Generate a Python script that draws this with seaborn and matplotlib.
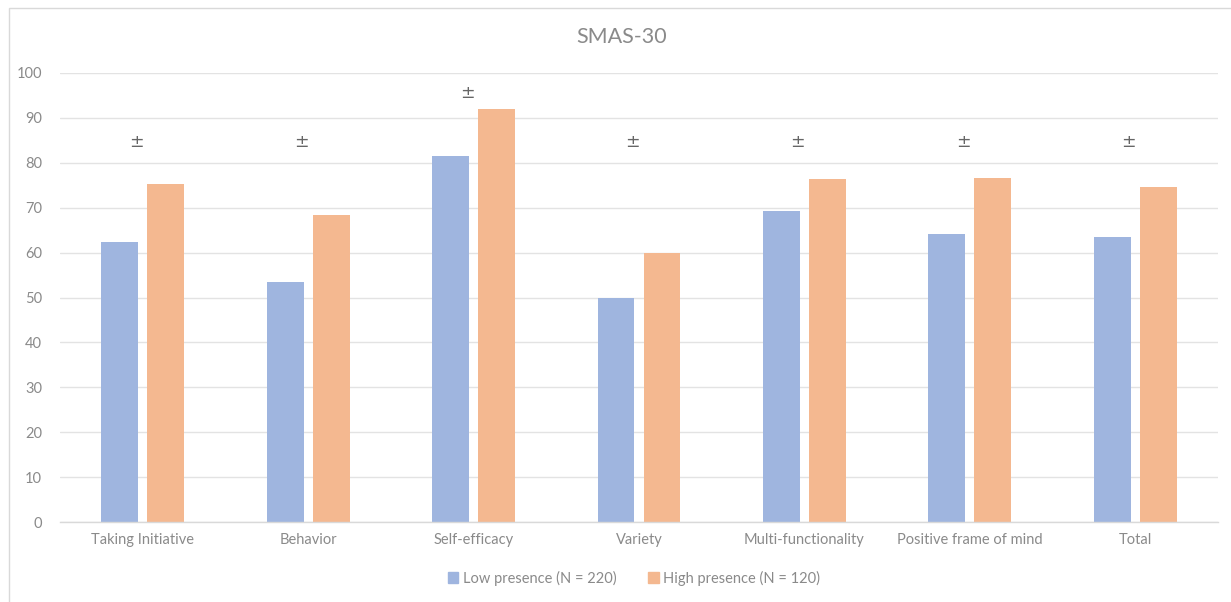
import matplotlib
matplotlib.use("Agg")
import matplotlib.pyplot as plt
import seaborn as sns
import pandas as pd
from matplotlib.patches import Rectangle

# Subscale means per group
categories = ["Taking Initiative", "Behavior", "Self-efficacy", "Variety",
              "Multi-functionality", "Positive frame of mind", "Total"]
groups = ["Low presence (N = 220)", "High presence (N = 120)"]
low_presence = [62.4, 53.5, 81.5, 49.9, 69.3, 64.1, 63.5]
high_presence = [75.3, 68.4, 92.0, 60.0, 76.4, 76.6, 74.6]
# Height of the "±" marker above each category
marker_levels = [84.6, 84.6, 95.5, 84.6, 84.6, 84.6, 84.6]
y_ticks = list(range(0, 101, 10))

df = pd.DataFrame({
    "category": categories * 2,
    "group": [groups[0]] * len(categories) + [groups[1]] * len(categories),
    "score": low_presence + high_presence,
})

sns.set_theme(style="white")
plt.rcParams["font.family"] = ["Lato", "DejaVu Sans"]

text_grey = "#8a8a8a"
palette = {groups[0]: "#9fb5df", groups[1]: "#f4b890"}

fig = plt.figure(figsize=(12.31, 6.02), dpi=100)
ax = fig.add_axes([60 / 1231, 1 - 522 / 602, (1218 - 60) / 1231, (522 - 73) / 602])

sns.barplot(data=df, x="category", y="score", hue="group", order=categories,
            hue_order=groups, palette=palette, width=0.556, gap=0.2,
            saturation=1, linewidth=0, edgecolor="none", ax=ax, legend=False)

ax.set_xlim(-0.5, len(categories) - 0.5)
ax.set_ylim(0, 100)
ax.set_yticks(y_ticks)
ax.yaxis.grid(True, color="#e3e3e3", linewidth=1)
ax.set_axisbelow(True)
for side in ["top", "right", "left"]:
    ax.spines[side].set_visible(False)
ax.spines["bottom"].set_color("#d9d9d9")
ax.spines["bottom"].set_linewidth(1)
ax.tick_params(axis="both", length=0, colors=text_grey, labelsize=10.5)
ax.tick_params(axis="y", pad=13)
ax.tick_params(axis="x", pad=8)
ax.set_xlabel("")
ax.set_ylabel("")

for i, level in enumerate(marker_levels):
    ax.text(i - 0.04, level, "±", ha="center", va="center", fontsize=12.5,
            color="#666666", family=["DejaVu Sans"])

fig.text(622 / 1231, 1 - 37 / 602, "SMAS-30", ha="center", va="center",
         fontsize=15.5, color=text_grey)

handles = [Rectangle((0, 0), 1, 1, color=palette[g]) for g in groups]
leg = fig.legend(handles, groups, loc="center", ncol=2, frameon=False,
                 bbox_to_anchor=(634 / 1231, 1 - 578 / 602), fontsize=10.5,
                 handlelength=0.7, handleheight=0.7, handletextpad=0.3,
                 columnspacing=2.2)
for t in leg.get_texts():
    t.set_color(text_grey)

# Chart-area border
fig.patches.append(Rectangle((9 / 1231, -0.05), 1.2, 1 - 8 / 602 + 0.05,
                             transform=fig.transFigure, fill=False,
                             edgecolor="#d9d9d9", linewidth=1))

fig.savefig("out.png", dpi=100, facecolor="white")
